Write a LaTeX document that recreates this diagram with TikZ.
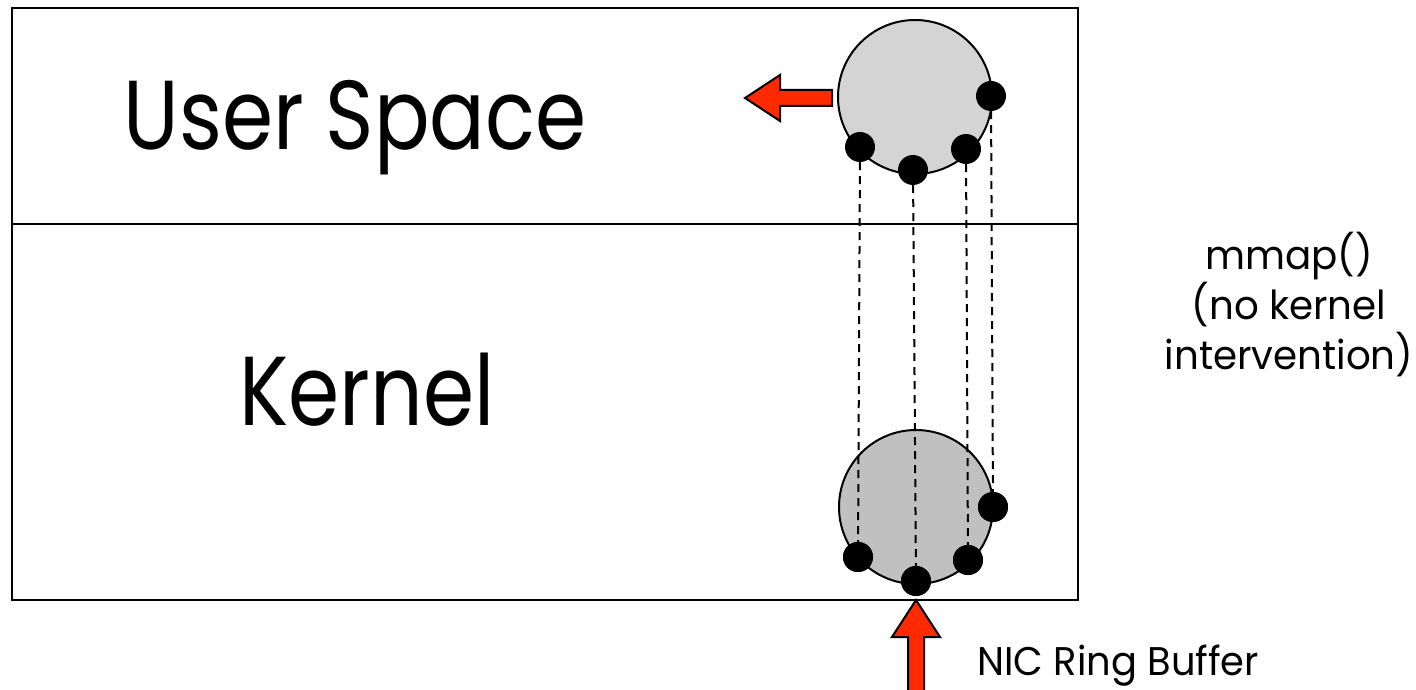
\documentclass[tikz,border=0pt]{standalone}
\usepackage{fontspec}
\usepackage{graphicx}
\setmainfont{Poppins}
\begin{document}
\begin{tikzpicture}[x=1pt,y=-1pt,
  frame/.style={draw=black,line width=2.5pt},
  ring/.style={circle,draw=black,line width=2pt,minimum size=154pt,inner sep=0pt},
  dot/.style={circle,fill=black,minimum size=30pt,inner sep=0pt},
  link/.style={draw=black,line width=2pt,dash pattern=on 8pt off 6pt},
  redarrow/.style={fill={rgb,255:red,255;green,42;blue,0},draw=black,line width=2pt,line join=miter},
  big/.style={font=\fontsize{98}{110}\selectfont},
  small/.style={font=\fontsize{40}{50}\selectfont}
]
\useasboundingbox (0,0) rectangle (1416,690);
\draw[frame] (12,8) rectangle (1078,600);
\draw[frame] (12,224) -- (1078,224);
\node[big] (us) at (355,128) {\scalebox{0.84}[1]{User Space}};
\node[big] (kn) at (367,390) {\scalebox{0.84}[1]{Kernel}};
\node[small,align=center] (mm) at (1289,305) {\scalebox{0.97}[1]{mmap()}\\\scalebox{0.97}[1]{(no kernel}\\\scalebox{0.97}[1]{intervention)}};
\node[small,anchor=west] (nic) at (974,666) {\scalebox{0.96}[1]{NIC Ring Buffer}};
% circles
\node[ring,fill={rgb,255:red,212;green,212;blue,212}] (uc) at (915,97) {};
\node[ring,fill={rgb,255:red,192;green,192;blue,192}] (kc) at (916,507) {};
% dots
\node[dot] (u1) at (860,147) {};
\node[dot] (u2) at (913,170) {};
\node[dot] (u3) at (966,149) {};
\node[dot] (u4) at (991,96) {};
\node[dot] (k1) at (858,557) {};
\node[dot] (k2) at (916,581) {};
\node[dot] (k3) at (968,560) {};
\node[dot] (k4) at (993,507) {};
\draw[link] (u1) -- (k1);
\draw[link] (u2) -- (k2);
\draw[link] (u3) -- (k3);
\draw[link] (u4) -- (k4);
\node[dot] at (k1) {};
\node[dot] at (k2) {};
\node[dot] at (k3) {};
\node[dot] at (k4) {};
% arrows
\coordinate (la) at (745,98);
\draw[redarrow] (la) -- (780,75) -- (780,90) -- (832,90) -- (832,106) -- (780,106) -- (780,121) -- cycle;
\coordinate (ba) at (916,600);
\draw[redarrow] (ba) -- (940,637) -- (924,637) -- (924,692) -- (908,692) -- (908,637) -- (892,637) -- cycle;
\end{tikzpicture}
\end{document}
